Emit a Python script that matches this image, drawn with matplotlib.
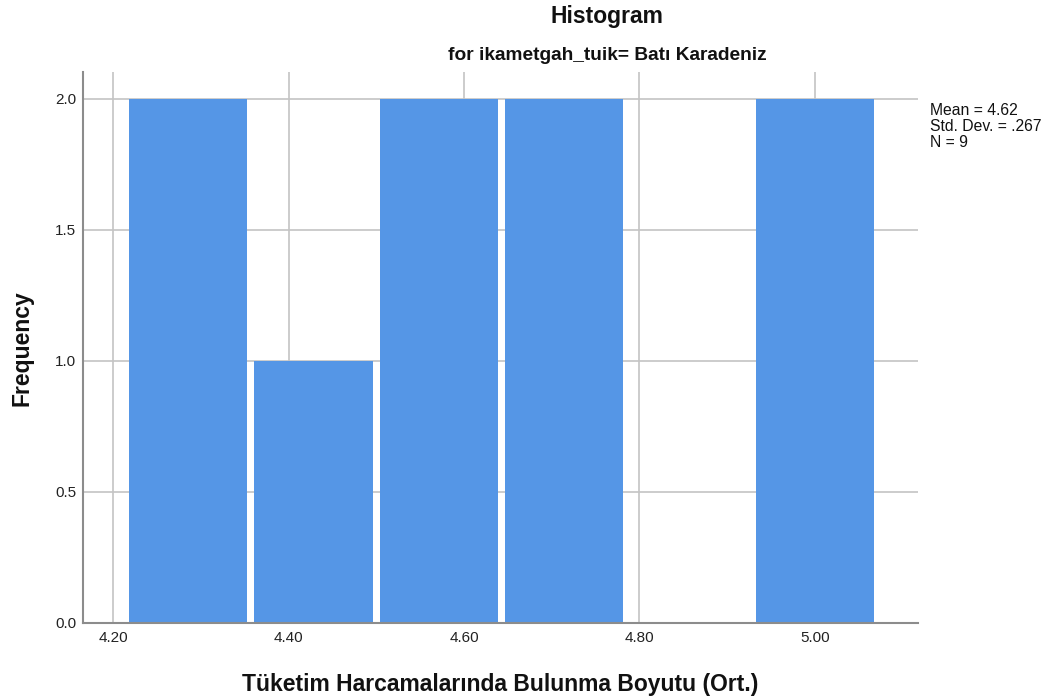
import matplotlib
matplotlib.use("Agg")
import matplotlib.pyplot as plt
import numpy as np

# Data
bin_centers = [30/7, 31/7, 32/7, 33/7, 34/7, 35/7]
counts = [2, 1, 2, 2, 0, 2]
bin_width = 1/7
x_ticks = [4.20, 4.40, 4.60, 4.80, 5.00]
x_tick_labels = ["4.20", "4.40", "4.60", "4.80", "5.00"]
y_ticks = [0.0, 0.5, 1.0, 1.5, 2.0]
y_tick_labels = ["0.0", "0.5", "1.0", "1.5", "2.0"]
title = "Histogram"
subtitle = "for ikametgah_tuik= Batı Karadeniz"
xlabel = "Tüketim Harcamalarında Bulunma Boyutu (Ort.)"
ylabel = "Frequency"
stats = "Mean = 4.62\nStd. Dev. = .267\nN = 9"

plt.rcParams['font.family'] = ['Liberation Sans', 'DejaVu Sans']

W, H = 1053, 700
fig = plt.figure(figsize=(W/100, H/100), dpi=100)
ax = fig.add_axes([83/W, (H-623)/H, (918-83)/W, (623-72)/H])

ax.set_xlim(4.1658, 5.1174)
ax.set_ylim(0, 2.103)

grid_color = "#c4c4c4"
for xt in x_ticks:
    ax.axvline(xt, color=grid_color, lw=1.2, zorder=0)
for yt in y_ticks[1:]:
    ax.axhline(yt, color=grid_color, lw=1.2, zorder=0)

ax.bar(bin_centers, counts, width=bin_width * 0.944, color="#5596e6",
       edgecolor="none", zorder=2)

ax.set_xticks(x_ticks)
ax.set_xticklabels(x_tick_labels, fontsize=11, color="#222222")
ax.set_yticks(y_ticks)
ax.set_yticklabels(y_tick_labels, fontsize=11, color="#222222")
ax.tick_params(axis="x", length=0, pad=6)
ax.tick_params(axis="y", length=0, pad=5)

for s in ["top", "right"]:
    ax.spines[s].set_visible(False)
for s in ["left", "bottom"]:
    ax.spines[s].set_color("#8c8c8c")
    ax.spines[s].set_linewidth(1.5)
    ax.spines[s].set_zorder(3)

fig.text(607/W, 1 - 16/H, title, ha="center", va="center", fontsize=16.5,
         fontweight="bold", color="#111111")
fig.text(607/W, 1 - 56/H, subtitle, ha="center", va="center", fontsize=13.8,
         fontweight="bold", color="#111111")
fig.text(500/W, 1 - 684/H, xlabel, ha="center", va="center", fontsize=16.5,
         fontweight="bold", color="#111111")
fig.text(22/W, 1 - 348/H, ylabel, ha="center", va="center", fontsize=16.5,
         fontweight="bold", rotation=90, color="#111111")
fig.text(930/W, 1 - 103/H, stats, ha="left", va="top", fontsize=11.3,
         color="#111111", linespacing=1.08)

fig.savefig("out.png", dpi=100)
